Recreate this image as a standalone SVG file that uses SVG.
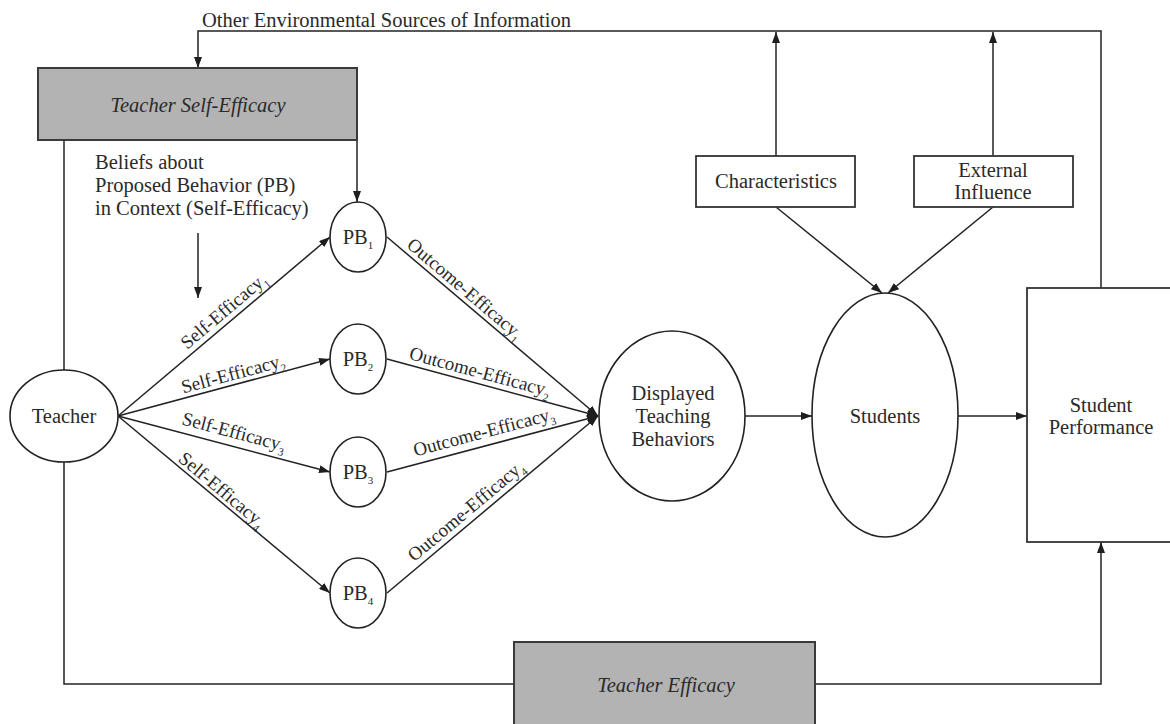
<svg xmlns="http://www.w3.org/2000/svg" width="1170" height="724" viewBox="0 0 1170 724" font-family="'Liberation Serif', 'Times New Roman', serif">
<defs>
<marker id="ah" markerUnits="userSpaceOnUse" markerWidth="11" markerHeight="8" refX="11" refY="4" orient="auto">
<path d="M0,0 L11,4 L0,8 Z" fill="#1e1e1e"/>
</marker>
<style>
text{fill:#2a2a2a;font-size:20.5px}
.it{font-style:italic}
.lbl{font-size:19px}
.sub{font-size:11px}
.mid{text-anchor:middle}
.box{fill:#fff;stroke:#333;stroke-width:1.8}
.gray{fill:#b3b3b3;stroke:#3a3a3a;stroke-width:2}
.ell{fill:#fff;stroke:#222;stroke-width:1.6}
.ln{fill:none;stroke:#222;stroke-width:1.5}
.arr{fill:none;stroke:#222;stroke-width:1.5;marker-end:url(#ah)}
</style>
</defs>
<rect width="1170" height="724" fill="#fff"/>

<g id="connectors">
<polyline class="arr" points="1101,288 1101,31 198,31 198,68"/>
<line class="arr" x1="776" y1="156" x2="776" y2="32"/>
<line class="arr" x1="993" y1="156" x2="993" y2="32"/>
<line class="ln" x1="64" y1="140" x2="64" y2="370"/>
<line class="arr" x1="357" y1="140" x2="357" y2="202"/>
<line class="arr" x1="198" y1="233" x2="198" y2="298"/>
<polyline class="ln" points="64,462 64,684 514,684"/>
<polyline class="arr" points="815,684 1101,684 1101,542"/>
<line class="arr" x1="118" y1="416" x2="330" y2="237"/>
<line class="arr" x1="118" y1="416" x2="330" y2="359"/>
<line class="arr" x1="118" y1="416" x2="330" y2="472"/>
<line class="arr" x1="118" y1="416" x2="330" y2="593"/>
<line class="arr" x1="387" y1="237" x2="598" y2="416"/>
<line class="arr" x1="387" y1="359" x2="598" y2="416"/>
<line class="arr" x1="387" y1="472" x2="598" y2="416"/>
<line class="arr" x1="387" y1="593" x2="598" y2="416"/>
<line class="arr" x1="745" y1="416" x2="812" y2="416"/>
<line class="arr" x1="957" y1="416" x2="1027" y2="416"/>
<line class="arr" x1="776" y1="207" x2="882" y2="293"/>
<line class="arr" x1="993" y1="207" x2="888" y2="293"/>

<text x="202" y="27">Other Environmental Sources of Information</text>
<text x="95" y="169">Beliefs about</text>
<text x="95" y="192">Proposed Behavior (PB)</text>
<text x="95" y="215">in Context (Self-Efficacy)</text>

<text class="lbl mid" transform="translate(224,311) rotate(-40.18)" y="6">Self-Efficacy<tspan class="sub" dy="5">1</tspan></text>
<text class="lbl mid" transform="translate(233,374) rotate(-15.05)" y="6">Self-Efficacy<tspan class="sub" dy="5">2</tspan></text>
<text class="lbl mid" transform="translate(234,432) rotate(14.8)" y="6">Self-Efficacy<tspan class="sub" dy="5">3</tspan></text>
<text class="lbl mid" transform="translate(222,490) rotate(39.86)" y="6">Self-Efficacy<tspan class="sub" dy="5">4</tspan></text>
<text class="lbl mid" transform="translate(465,289) rotate(40.31)" y="6">Outcome-Efficacy<tspan class="sub" dy="5">1</tspan></text>
<text class="lbl mid" transform="translate(480,372) rotate(15.12)" y="6">Outcome-Efficacy<tspan class="sub" dy="5">2</tspan></text>
<text class="lbl mid" transform="translate(484,432) rotate(-14.86)" y="6">Outcome-Efficacy<tspan class="sub" dy="5">3</tspan></text>
<text class="lbl mid" transform="translate(466,511) rotate(-40)" y="6">Outcome-Efficacy<tspan class="sub" dy="5">4</tspan></text>
</g>

<g id="teacher-self-efficacy">
<rect class="gray" x="38" y="68" width="319" height="72"/>
<text class="it mid" x="198" y="112">Teacher Self-Efficacy</text>
</g>

<g id="teacher">
<ellipse class="ell" cx="64" cy="416" rx="54" ry="46"/>
<text class="mid" x="64" y="423">Teacher</text>
</g>

<g id="pb1">
<ellipse class="ell" cx="358" cy="237" rx="28" ry="35"/>
<text class="mid" x="358" y="244">PB<tspan class="sub" dy="5">1</tspan></text>
</g>
<g id="pb2">
<ellipse class="ell" cx="358" cy="359" rx="28" ry="35"/>
<text class="mid" x="358" y="366">PB<tspan class="sub" dy="5">2</tspan></text>
</g>
<g id="pb3">
<ellipse class="ell" cx="358" cy="472" rx="28" ry="35"/>
<text class="mid" x="358" y="479">PB<tspan class="sub" dy="5">3</tspan></text>
</g>
<g id="pb4">
<ellipse class="ell" cx="358" cy="593" rx="28" ry="35"/>
<text class="mid" x="358" y="600">PB<tspan class="sub" dy="5">4</tspan></text>
</g>

<g id="displayed-teaching-behaviors">
<ellipse class="ell" cx="672" cy="416" rx="73" ry="85"/>
<text class="mid" x="673" y="400">Displayed</text>
<text class="mid" x="673" y="423">Teaching</text>
<text class="mid" x="673" y="446">Behaviors</text>
</g>

<g id="students">
<ellipse class="ell" cx="885" cy="415" rx="73" ry="122"/>
<text class="mid" x="885" y="423">Students</text>
</g>

<g id="characteristics">
<rect class="box" x="696" y="156" width="159" height="51"/>
<text class="mid" x="776" y="188">Characteristics</text>
</g>

<g id="external-influence">
<rect class="box" x="914" y="156" width="159" height="51"/>
<text class="mid" x="993" y="177">External</text>
<text class="mid" x="993" y="199">Influence</text>
</g>

<g id="student-performance">
<rect class="box" x="1027" y="288" width="150" height="254"/>
<text class="mid" x="1101" y="412">Student</text>
<text class="mid" x="1101" y="434">Performance</text>
</g>

<g id="teacher-efficacy">
<rect class="gray" x="514" y="642" width="301" height="90"/>
<text class="it mid" x="666" y="692">Teacher Efficacy</text>
</g>
</svg>
